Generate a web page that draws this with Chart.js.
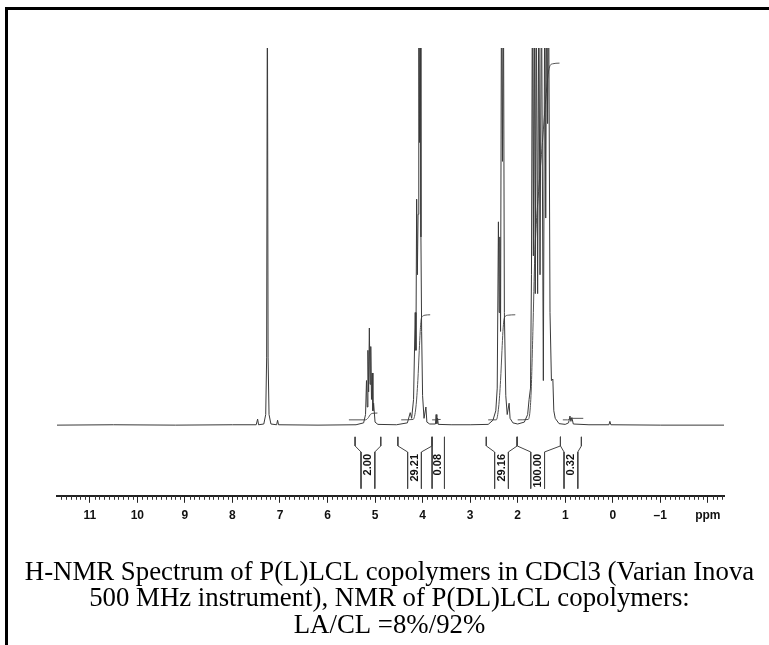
<!DOCTYPE html>
<html>
<head>
<meta charset="utf-8">
<script src="https://cdn.jsdelivr.net/npm/chart.js@4.4.1/dist/chart.umd.min.js"></script>
<style>
    html, body { margin: 0; padding: 0; background: #fff; }
    #wrap { width: 769px; height: 645px; position: relative; }
</style>
</head>
<body>
<div id="wrap"><canvas id="nmr"></canvas></div>
<script>
// spectrum trace (ppm, relative intensity; >100 runs off the top)
const shiftPpm = [
    11.69, 10.5, 9.2, 8.0, 7.50, 7.47, 7.45, 7.34, 7.30, 7.28, 7.265, 7.25, 7.23, 7.19,
    7.07, 7.05, 7.03, 6.2, 5.40, 5.24, 5.20, 5.18, 5.165, 5.15, 5.135, 5.12, 5.105, 5.09,
    5.075, 5.06, 5.045, 5.03, 5.00, 4.94, 4.55, 4.32, 4.26, 4.23, 4.19, 4.155, 4.14, 4.125,
    4.11, 4.095, 4.08, 4.065, 4.05, 4.035, 4.02, 4.00, 3.97, 3.93, 3.91, 3.85, 3.73, 3.715,
    3.70, 3.685, 3.67, 3.40, 3.00, 2.62, 2.52, 2.46, 2.43, 2.405, 2.39, 2.375, 2.36, 2.34,
    2.32, 2.30, 2.28, 2.25, 2.22, 2.18, 2.16, 2.10, 2.00, 1.86, 1.79, 1.76, 1.73, 1.71,
    1.69, 1.67, 1.65, 1.63, 1.61, 1.58, 1.555, 1.53, 1.50, 1.46, 1.43, 1.41, 1.39, 1.37,
    1.35, 1.32, 1.29, 1.26, 1.24, 1.21, 1.13, 1.00, 0.93, 0.90, 0.88, 0.86, 0.83, 0.50,
    0.08, 0.06, 0.04, -1.00, -2.34
];
const intensity = [
    0.2, 0.3, 0.2, 0.3, 0.3, 1.8, 0.3, 0.5, 3, 18, 120, 18, 3, 0.5,
    0.3, 1.5, 0.3, 0.2, 0.3, 0.8, 3, 12, 5, 20, 9, 25.9, 11, 21,
    7, 14, 4, 6, 1, 0.4, 0.3, 0.8, 3.5, 2, 7, 30, 20, 60,
    40, 56, 120, 75, 120, 50, 25, 8, 2, 5, 1, 0.5, 0.5, 3,
    0.6, 2, 0.4, 0.3, 0.3, 0.4, 1.5, 4, 10, 54, 30, 50, 25, 120,
    70, 120, 30, 8, 3, 6, 2, 0.8, 0.5, 1, 3, 7, 10, 40,
    120, 45, 120, 35, 120, 35, 120, 40, 120, 12, 120, 55, 120, 80,
    120, 30, 12, 12.4, 4, 2, 0.6, 0.4, 0.8, 2.6, 1.2, 2.2, 0.5, 0.3,
    0.3, 1.2, 0.3, 0.2, 0.2
];

// integral traces, one list per integrated region
const integralPpm = [
    [5.55, 5.20, 5.14, 5.10, 5.06, 4.95],
    [4.45, 4.20, 4.14, 4.10, 4.07, 4.05, 4.03, 4.00, 3.95, 3.84],
    [3.80, 3.72, 3.70, 3.62],
    [2.62, 2.45, 2.40, 2.36, 2.33, 2.31, 2.29, 2.26, 2.20, 2.05],
    [2.00, 1.78, 1.72, 1.68, 1.64, 1.56, 1.48, 1.40, 1.36, 1.33, 1.27, 1.12],
    [1.05, 0.95, 0.90, 0.85, 0.62]
];
const integralHeight = [
    [1.6, 1.6, 2.2, 3.0, 3.3, 3.4],
    [1.6, 1.7, 5, 12, 20, 25, 28.2, 29, 29.3, 29.4],
    [1.6, 1.6, 1.7, 1.7],
    [1.6, 1.6, 5, 12, 20, 25, 28, 29, 29.3, 29.4],
    [1.6, 1.7, 8, 25, 45, 62, 75, 88, 93, 95, 95.8, 96],
    [1.6, 1.6, 1.9, 2.0, 2.0]
];

// integration regions and their values
const regionFrom = [5.42, 4.52, 3.80, 2.66, 2.01, 1.10];
const regionTo = [4.88, 3.80, 3.54, 2.01, 1.10, 0.66];
const regionCentre = [5.15, 4.17, 3.67, 2.34, 1.58, 0.88];
const regionValues = ["2.00", "29.21", "0.08", "29.16", "100.00", "0.32"];

const ppmMin = -2.34;
const ppmMax = 11.69;

const toPoints = (xs, ys) => xs.map((x, i) => ({ x: x, y: ys[i] }));

const datasets = [];

datasets.push({
    data: toPoints(shiftPpm, intensity),
    borderColor: "#3a3a3a",
    borderWidth: 1,
});

for (let i = 0; i < integralPpm.length; i++) {
    datasets.push({
        data: toPoints(integralPpm[i], integralHeight[i]),
        borderColor: "#555",
        borderWidth: 1,
        cubicInterpolationMode: "monotone",
    });
}

// bracket under each region, label slot in the middle
const gap = 0.145;
for (let i = 0; i < regionFrom.length; i++) {
    const innerL = Math.min(regionCentre[i] + gap, regionFrom[i]);
    const innerR = Math.max(regionCentre[i] - gap, regionTo[i]);
    datasets.push({
        data: [
            { x: regionFrom[i], y: -2.9 },
            { x: regionFrom[i], y: -5.3 },
            { x: innerL, y: -6.9 },
            { x: innerL, y: -16.6 },
            { x: innerL, y: null },
            { x: regionTo[i], y: -2.9 },
            { x: regionTo[i], y: -5.3 },
            { x: innerR, y: -6.9 },
            { x: innerR, y: -16.6 },
        ],
        borderColor: "#444",
        borderWidth: 1,
        spanGaps: false,
    });
}

const extras = {
    id: "extras",
    beforeDraw(chart) {
        const ctx = chart.ctx;
        ctx.save();
        ctx.fillStyle = "#000";
        ctx.fillRect(5, 7, 3, chart.height - 7);
        ctx.fillRect(5, 7, chart.width - 5, 3);
        ctx.restore();
    },
    afterDatasetsDraw(chart) {
        const ctx = chart.ctx;
        const xs = chart.scales.x;
        const ys = chart.scales.y;
        ctx.save();
        ctx.fillStyle = "#111";
        ctx.font = "bold 11px 'Liberation Sans', Arial, sans-serif";
        ctx.textAlign = "right";
        ctx.textBaseline = "middle";
        for (let i = 0; i < regionValues.length; i++) {
            const x = xs.getPixelForValue(regionCentre[i]);
            const y = ys.getPixelForValue(-6.9) + 2;
            ctx.save();
            ctx.translate(x, y);
            ctx.rotate(-Math.PI / 2);
            ctx.fillText(regionValues[i], 0, 0);
            ctx.restore();
        }

        // minor ticks every 0.1 ppm
        const axisY = chart.chartArea.bottom;
        ctx.strokeStyle = "#333";
        ctx.lineWidth = 1;
        ctx.beginPath();
        for (let v = Math.ceil(ppmMin * 10); v <= Math.floor(ppmMax * 10); v++) {
            if (v % 10 === 0) continue;
            const x = Math.round(xs.getPixelForValue(v / 10)) + 0.5;
            ctx.moveTo(x, axisY);
            ctx.lineTo(x, axisY + 4);
        }
        ctx.stroke();
        ctx.restore();
    },
};

// invisible side axes only reserve the margins, so the caption can use the full width
const hiddenAxis = (pos, w) => ({
    position: pos,
    display: true,
    min: -18.5,
    max: 100,
    ticks: { display: false },
    grid: { display: false, drawTicks: false },
    border: { display: false },
    afterFit: (s) => { s.width = w; },
});

new Chart(document.getElementById("nmr"), {
    type: "line",
    data: { datasets: datasets },
    options: {
        responsive: true,
        maintainAspectRatio: false,
        animation: false,
        elements: { point: { radius: 0 }, line: { tension: 0 } },
        layout: { padding: { left: 10, right: 0, top: 48, bottom: 0 } },
        plugins: {
            legend: { display: false },
            tooltip: { enabled: false },
            title: {
                display: true,
                position: "bottom",
                text: [
                    "H-NMR Spectrum of P(L)LCL copolymers in CDCl3 (Varian Inova",
                    "500 MHz instrument), NMR of P(DL)LCL copolymers:",
                    "LA/CL =8%/92%",
                ],
                color: "#000",
                font: { family: "'Liberation Serif', 'Times New Roman', serif", size: 26.8, weight: "normal", lineHeight: 0.985 },
                padding: { top: 30.6, bottom: 6 },
            },
        },
        scales: {
            x: {
                type: "linear",
                reverse: true,
                min: ppmMin,
                max: ppmMax,
                border: { display: true, color: "#222", width: 2 },
                grid: { display: true, drawOnChartArea: false, drawTicks: true, tickLength: 7, color: "#222", tickWidth: 1 },
                ticks: {
                    stepSize: 1,
                    includeBounds: false,
                    autoSkip: false,
                    maxRotation: 0,
                    padding: 6,
                    color: "#111",
                    font: { family: "'Liberation Sans', Arial, sans-serif", size: 12, weight: "bold" },
                    callback: (v) => (v === -2 ? "ppm" : v < 0 ? "\u2013" + Math.abs(v) : String(v)),
                },
            },
            y: hiddenAxis("left", 47),
            yRight: hiddenAxis("right", 45),
        },
    },
    plugins: [extras],
});
</script>
</body>
</html>
